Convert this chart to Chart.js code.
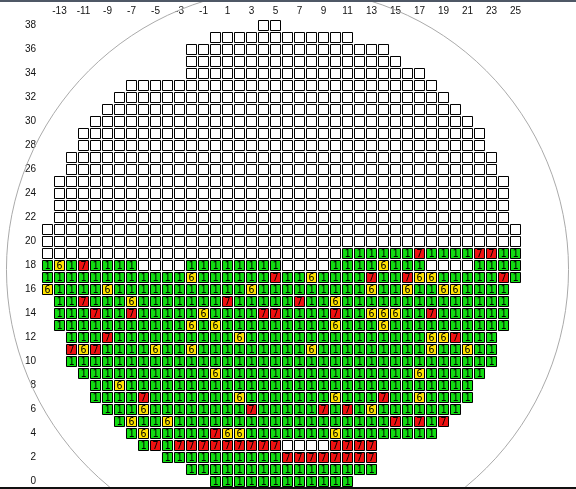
<!DOCTYPE html>
<html><head><meta charset="utf-8">
<script src="https://cdn.jsdelivr.net/npm/chart.js@4"></script>
<style>html,body{margin:0;padding:0;background:#fff;overflow:hidden}</style>
</head><body>
<canvas id="c" width="576" height="489"></canvas>
<script>
// ---- tick labels ----
const X_TICKS = [-13,-11,-9,-7,-5,-3,-1,1,3,5,7,9,11,13,15,17,19,21,23,25];
const Y_TICKS = [0,2,4,6,8,10,12,14,16,18,20,22,24,26,28,30,32,34,36,38];

// ---- die rows on the wafer (row y, first and last die column) ----
const ROW_Y       = [38,37,36,35,34,33,32,31,30,29,28,27,26,25,24,23,22,21,20,19,18,17,16,15,14,13,12,11,10,9,8,7,6,5,4,3,2,1,0];
const ROW_FIRST_X = [4,0,-2,-2,-2,-7,-8,-9,-10,-11,-11,-12,-12,-13,-13,-13,-13,-14,-14,-14,-14,-14,-14,-13,-13,-13,-12,-12,-12,-11,-10,-10,-9,-8,-7,-6,-4,-2,0];
const ROW_LAST_X  = [5,11,14,15,17,18,19,20,21,22,22,23,23,24,24,24,24,25,25,25,25,25,24,24,24,24,23,23,23,22,21,21,20,19,18,13,13,13,11];

// ---- tested rows: bin per die ('.' = not tested) ----
const TEST_ROW_Y   = [19,18,17,16,15,14,13,12,11,10,9,8,7,6,5,4,3,2,1,0];
const TEST_FIRST_X = [11,-14,-14,-14,-13,-13,-13,-12,-12,-12,-11,-10,-10,-9,-8,-7,-6,-4,-2,0];
const TEST_BINS = [
  "111111"+"7"+"1111"+"77"+"11",
  "1617"+"1111"+"...."+"11111111"+"...."+"1111"+"6"+"111"+"...."+"1111",
  "111111111111"+"6"+"111111"+"7"+"11"+"6"+"1111"+"7"+"11"+"7"+"66"+"11111"+"7"+"1",
  "6"+"1111"+"6"+"11111111111"+"6"+"111111111"+"6"+"11"+"6"+"11"+"66"+"1111",
  "11"+"7"+"111"+"6"+"1111111"+"7"+"11111"+"7"+"11"+"6"+"11111111111111",
  "111"+"7"+"11"+"7"+"11111"+"6"+"1111"+"77"+"1111"+"7"+"11"+"666"+"11"+"7"+"111111",
  "11111111111"+"6"+"1"+"6"+"111111111"+"6"+"111"+"6"+"1111111111",
  "111"+"7"+"1111111111"+"6"+"111111111111111"+"66"+"7"+"111",
  "767"+"1111"+"6"+"11"+"6"+"111111111"+"6"+"111111111"+"6"+"11"+"6"+"11",
  "111111111111"+"111111111111"+"111111111111",
  "11111111111"+"6"+"1111111111111111"+"6"+"11111",
  "11"+"6"+"1111111111"+"1111111111"+"111111111",
  "1111"+"7"+"1111111"+"6"+"1111111"+"6"+"111"+"7"+"11"+"6"+"1111",
  "111"+"6"+"11111111"+"7"+"11111"+"7"+"1"+"7"+"1"+"6"+"1111111",
  "1"+"6"+"11"+"6"+"111111111"+"111111111"+"7"+"1"+"7"+"1"+"7",
  "1"+"6"+"11111"+"7"+"66"+"1111111"+"6"+"11111111",
  "1"+"7"+"1"+"777777777"+"...."+"7777",
  "1111111111"+"77777777",
  "11111111"+"11111111",
  "111111111111"
];

// ---- bins ----
const BIN_CODES  = ['.', '1', '6', '7'];
const BIN_NAMES  = ['Untested', 'Bin 1', 'Bin 6', 'Bin 7'];
const BIN_COLORS = ['#ffffff', '#11dd11', '#ffe400', '#ee1111'];

// wafer outline (in die units)
const WAFER_CX = 6, WAFER_CY = 17.67, WAFER_R = 23.42;

// build per-bin point lists
const cells = {};
BIN_CODES.forEach(c => cells[c] = []);
ROW_Y.forEach((y, i) => {
  const t = TEST_ROW_Y.indexOf(y);
  for (let x = ROW_FIRST_X[i]; x <= ROW_LAST_X[i]; x++) {
    let code = '.';
    if (t >= 0) {
      const k = x - TEST_FIRST_X[t];
      if (k >= 0 && k < TEST_BINS[t].length) code = TEST_BINS[t][k];
    }
    cells[code].push({x, y});
  }
});

const X_MIN = -14.5 - 1/24, X_MAX = X_MIN + 40;
const Y_MAX = 38.5 + 1/24, Y_MIN = Y_MAX - 39;

const framePlugin = {
  id: 'frame',
  beforeDatasetsDraw(chart) {
    const {ctx, scales: {x}} = chart;
    const cx = x.getPixelForValue(WAFER_CX);
    const cy = chart.scales.y.getPixelForValue(WAFER_CY);
    const r = x.getPixelForValue(WAFER_CX + WAFER_R) - cx;
    ctx.save();
    ctx.strokeStyle = '#aaaaaa';
    ctx.lineWidth = 1;
    ctx.beginPath();
    ctx.arc(cx, cy, r, 0, Math.PI * 2);
    ctx.stroke();
    ctx.restore();
  },
  afterDatasetsDraw(chart) {
    const ctx = chart.ctx;
    ctx.save();
    ctx.fillStyle = '#000';
    ctx.font = '10px "DejaVu Sans Mono"';
    ctx.textAlign = 'center';
    ctx.textBaseline = 'middle';
    chart.data.datasets.forEach((ds, di) => {
      if (ds.binCode === '.') return;
      chart.getDatasetMeta(di).data.forEach(el => {
        ctx.fillText(ds.binCode, el.x, el.y + 0.5);
      });
    });
    ctx.restore();
  },
  afterDraw(chart) {
    const ctx = chart.ctx;
    ctx.save();
    ctx.fillStyle = '#4f5866';
    ctx.fillRect(0, 0, chart.width, 2);
    ctx.fillStyle = '#111';
    ctx.fillRect(0, 487, chart.width, 2);
    ctx.restore();
  }
};

const tickFont = {family: '"Liberation Sans", Arial, sans-serif', size: 10};
function noPad(s) { s.paddingLeft = 0; s.paddingRight = 0; s.paddingTop = 0; s.paddingBottom = 0; }

new Chart(document.getElementById('c'), {
  type: 'scatter',
  data: {
    datasets: BIN_CODES.map((c, i) => ({
      label: BIN_NAMES[i],
      binCode: c,
      data: cells[c],
      pointStyle: 'rect',
      pointRadius: 5 * Math.SQRT2,
      pointHoverRadius: 5 * Math.SQRT2,
      backgroundColor: BIN_COLORS[i],
      borderColor: '#000',
      borderWidth: 1,
      pointHoverBorderWidth: 1,
      clip: false
    }))
  },
  options: {
    responsive: false,
    animation: false,
    devicePixelRatio: 1,
    events: [],
    layout: {autoPadding: false, padding: {left: 0, top: 0, right: 55, bottom: 2}},
    plugins: {legend: {display: false}, tooltip: {enabled: false}},
    scales: {
      x: {
        type: 'linear', position: 'top', min: X_MIN, max: X_MAX,
        afterFit(s) { s.height = 19; noPad(s); },
        afterBuildTicks(s) { s.ticks = X_TICKS.map(v => ({value: v})); },
        grid: {display: false, drawTicks: false},
        border: {display: false},
        ticks: {padding: 2, color: '#111', font: tickFont, autoSkip: false, maxRotation: 0, minRotation: 0}
      },
      y: {
        type: 'linear', position: 'left', min: Y_MIN, max: Y_MAX,
        afterFit(s) { s.width = 41; noPad(s); },
        afterBuildTicks(s) { s.ticks = Y_TICKS.map(v => ({value: v})); },
        grid: {display: false, drawTicks: false},
        border: {display: false},
        ticks: {padding: 5, color: '#111', font: tickFont, autoSkip: false}
      }
    }
  },
  plugins: [framePlugin]
});
</script>
</body></html>
